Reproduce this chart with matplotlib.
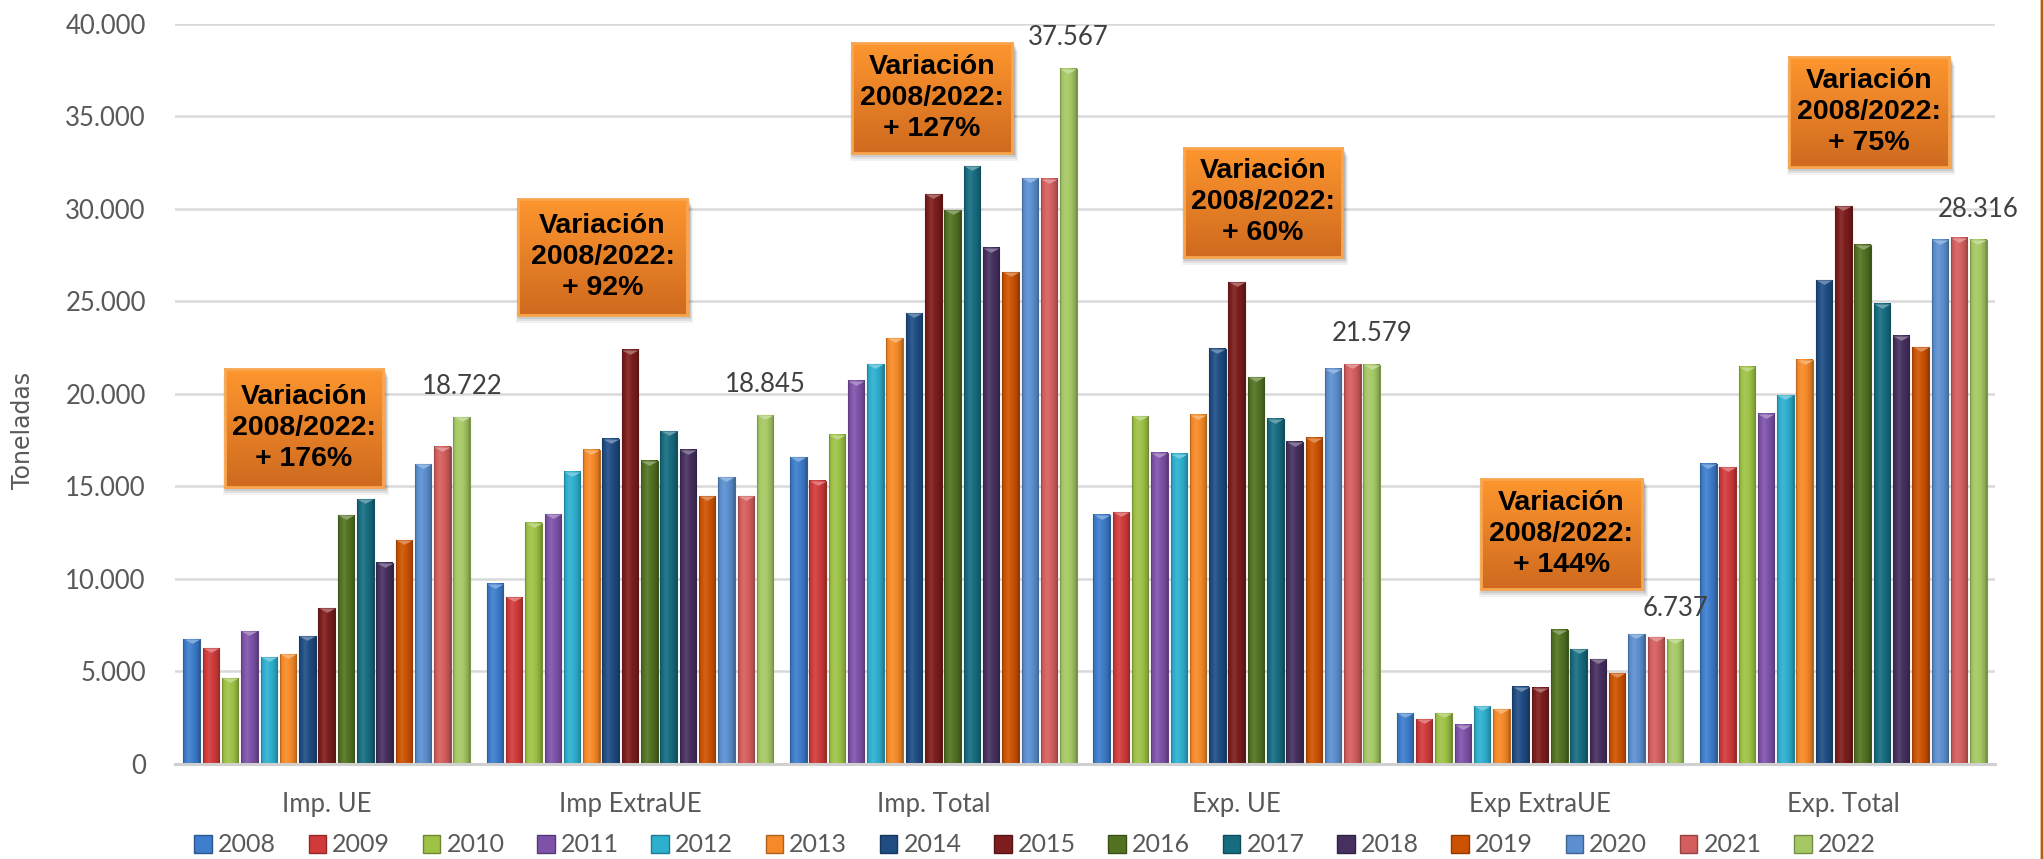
import numpy as np
import matplotlib
matplotlib.use("Agg")
import matplotlib.pyplot as plt
from matplotlib.colors import to_rgb
from matplotlib.patches import Patch, Rectangle, FancyBboxPatch
from matplotlib.path import Path
from matplotlib.ticker import FuncFormatter

categories = ["Imp. UE", "Imp ExtraUE", "Imp. Total", "Exp. UE", "Exp ExtraUE", "Exp. Total"]
years = [str(y) for y in range(2008, 2023)]

# tonnes per category, one list per year
values = {
    "2008": [6730, 9750, 16580, 13470, 2740, 16220],
    "2009": [6250, 9000, 15310, 13610, 2410, 16040],
    "2010": [4630, 13030, 17790, 18780, 2740, 21470],
    "2011": [7180, 13480, 20700, 16800, 2110, 18910],
    "2012": [5760, 15780, 21600, 16760, 3130, 19910],
    "2013": [5920, 16980, 23000, 18870, 2950, 21830],
    "2014": [6910, 17580, 24340, 22420, 4180, 26140],
    "2015": [8400, 22370, 30770, 26030, 4120, 30120],
    "2016": [13440, 16390, 29910, 20880, 7240, 28060],
    "2017": [14300, 17970, 32280, 18640, 6210, 24850],
    "2018": [10880, 16980, 27900, 17410, 5670, 23120],
    "2019": [12090, 14460, 26550, 17610, 4900, 22510],
    "2020": [16190, 15500, 31650, 21350, 7000, 28330],
    "2021": [17130, 14460, 31610, 21600, 6840, 28440],
    "2022": [18722, 18845, 37567, 21579, 6737, 28316],
}

variation_text = ["+ 176%", "+ 92%", "+ 127%", "+ 60%", "+ 144%", "+ 75%"]
# pixel boxes (left, top, right, bottom) for the variation call-outs
variation_boxes = [
    (225, 369, 383, 487),
    (518, 199, 687, 315),
    (852, 43, 1012, 153),
    (1184, 148, 1342, 257),
    (1481, 479, 1642, 589),
    (1789, 57, 1949, 167),
]

colors = ["#3D7DCB", "#D03A3A", "#9DC246", "#7D52A8", "#2DAFCE", "#F68A28",
          "#1F4D84", "#7D1D1D", "#527222", "#176C80", "#46305F", "#CC5200",
          "#5B8FCF", "#D45E5E", "#A6C864"]

W, H = 2044, 859
fig = plt.figure(figsize=(W / 100, H / 100), dpi=100)
ax = fig.add_axes([175 / W, 1 - 764 / H, 1820 / W, (764 - 23.5) / H])

TICK_FONT = "Lato"
GRAY = "#595959"


def shade(c, f):
    c = np.array(to_rgb(c))
    if f >= 1:
        return c + (1 - c) * (f - 1)
    return c * f


profile_t = np.linspace(0, 1, 40)
profile_f = np.interp(profile_t, [0, 0.08, 0.35, 0.7, 0.92, 1],
                      [0.70, 0.95, 1.10, 0.96, 0.82, 0.68])

x = np.arange(len(categories))
pitch = 0.0636
width = 0.0544
top_marker = Path([(-1, 0), (1, 0), (0, -0.55), (-1, 0)])

for i, yr in enumerate(years):
    c = colors[i]
    bars = ax.bar(x + (i - 7) * pitch, values[yr], width, color=c,
                  edgecolor=shade(c, 0.75), linewidth=0.8, zorder=2)
    # bevel-like shading across each bar
    grad = np.array([[shade(c, f) for f in profile_f]])
    for b in bars:
        x0, w_, h_ = b.get_x(), b.get_width(), b.get_height()
        ax.imshow(grad, extent=[x0, x0 + w_, 0, h_], aspect="auto",
                  interpolation="bilinear", zorder=2.1)
        ax.plot(x0 + w_ / 2, h_, marker=top_marker, markersize=11.5,
                color=shade(c, 1.35), markeredgewidth=0, zorder=2.2)
    if yr == "2022":
        labels = [f"{v:,.0f}".replace(",", ".") for v in values[yr]]
        ax.bar_label(bars, labels=labels, padding=13, fontsize=18.5,
                     family=TICK_FONT, color="#404040", zorder=3)

ax.set_xlim(-0.5, len(categories) - 0.5)
ax.set_ylim(0, 40000)
ax.set_yticks(np.arange(0, 40001, 5000))
ax.yaxis.set_major_formatter(FuncFormatter(lambda v, p: f"{v:,.0f}".replace(",", ".")))
ax.set_xticks(x)
ax.set_xticklabels(categories)
ax.tick_params(axis="y", length=0, pad=21, labelsize=18.5, labelcolor=GRAY)
ax.tick_params(axis="x", length=0, pad=20, labelsize=18.5, labelcolor=GRAY)
for lab in ax.get_xticklabels() + ax.get_yticklabels():
    lab.set_family(TICK_FONT)

ax.yaxis.grid(True, color="#D9D9D9", linewidth=1.8)
ax.set_axisbelow(True)
for s in ["top", "right", "left"]:
    ax.spines[s].set_visible(False)
ax.spines["bottom"].set_color("#D0D0D0")
ax.spines["bottom"].set_linewidth(2.2)
ax.spines["bottom"].set_zorder(3)

fig.text(23 / W, 1 - 430 / H, "Toneladas", rotation=90, ha="center", va="center",
         fontsize=17, color=GRAY, family="DejaVu Sans")

handles = [Patch(facecolor=c, edgecolor=shade(c, 0.7), linewidth=1) for c in colors]
fig.legend(handles, years, loc="center", bbox_to_anchor=(1035 / W, 1 - 845 / H),
           ncol=15, frameon=False, handlelength=0.7, handleheight=0.7,
           handletextpad=0.25, columnspacing=1.3, borderpad=0,
           prop={"family": TICK_FONT, "size": 18}, labelcolor=GRAY)

# orange call-out boxes with the 2008/2022 change
box_grad = np.linspace(0, 1, 64)[:, None]
top_c, bot_c = np.array(to_rgb("#FD962E")), np.array(to_rgb("#CF6A1F"))
box_img = (top_c[None, None, :] * (1 - box_grad[..., None]) + bot_c[None, None, :] * box_grad[..., None])
for (l, t, r, b), txt in zip(variation_boxes, variation_text):
    for k, a in enumerate([0.05, 0.07, 0.09, 0.11]):
        off = 8 - 2 * k
        fig.patches.append(Rectangle(((l + 2 - off / 2) / W, 1 - (b + off) / H),
                                     (r - l + off) / W, (b - t) / H,
                                     transform=fig.transFigure, facecolor="black",
                                     edgecolor="none", alpha=a, zorder=4))
    bax = fig.add_axes([l / W, 1 - b / H, (r - l) / W, (b - t) / H], zorder=5)
    bax.imshow(box_img, aspect="auto", extent=[0, 1, 0, 1])
    bax.set_xticks([])
    bax.set_yticks([])
    for s in bax.spines.values():
        s.set_color("#F9A64E")
        s.set_linewidth(2)
    bax.text(0.5, 0.5, "Variación\n2008/2022:\n" + txt, ha="center", va="center",
             fontsize=20.5, fontweight="bold", family="Liberation Sans",
             color="black", linespacing=1.25, transform=bax.transAxes)

# rounded frame edge on the right
fig.patches.append(FancyBboxPatch((-200 / W, -20 / H), 2242 / W, 900 / H,
                                  boxstyle="round,pad=0,rounding_size=0.02",
                                  transform=fig.transFigure, facecolor="none",
                                  edgecolor="#B85C12", linewidth=2, zorder=6))

fig.savefig("out.png", dpi=100)
